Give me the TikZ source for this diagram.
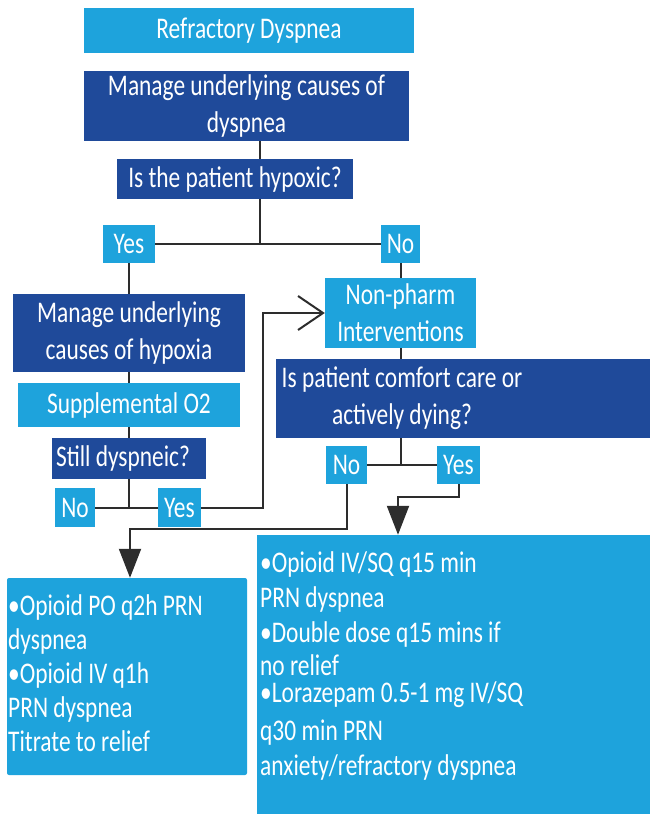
\documentclass[tikz,border=0pt]{standalone}
\usepackage{fontspec}
\setmainfont{Carlito}[FakeStretch=0.78]
\usetikzlibrary{arrows.meta,calc}
\definecolor{lightb}{RGB}{30,163,220}
\definecolor{darkb}{RGB}{31,74,154}
\definecolor{linec}{RGB}{45,45,45}
\begin{document}
\begin{tikzpicture}[x=1pt,y=-1pt,
  txt/.style={text=white,font=\fontsize{30}{37}\selectfont,inner sep=0pt,align=center},
  lbox/.style={txt,fill=lightb},
  dbox/.style={txt,fill=darkb},
  conn/.style={draw=linec,line width=2pt},
  openarr/.style={conn,-{Straight Barb[length=25pt,width=34pt,line width=2pt]}},
  fillarr/.style={conn,-{Triangle[length=29pt,width=22pt]}}]
\useasboundingbox (0,0) rectangle (650,814);
\clip (0,0) rectangle (650,814);
% boxes
\node[lbox,minimum width=330,minimum height=45] (rd) at (249,30.5) {Refractory Dyspnea};
\node[dbox,minimum width=325,minimum height=70] (m1) at (246.5,106) {Manage underlying causes of\\dyspnea};
\node[dbox,minimum width=236,minimum height=40] (hyp) at (235,179) {Is the patient hypoxic?};
\node[lbox,minimum width=52,minimum height=38] (yes1) at (129,244) {Yes};
\node[lbox,minimum width=39,minimum height=38] (no1) at (400.5,244) {No};
\node[dbox,minimum width=232,minimum height=78] (m2) at (129,333) {Manage underlying\\causes of hypoxia};
\node[lbox,minimum width=222,minimum height=44] (o2) at (129,405) {Supplemental O2};
\node[dbox,minimum width=154,minimum height=41] (still) at (129,458.5) {};
\node[txt] (stilltext) at (123,458.5) {Still dyspneic?};
\node[lbox,minimum width=40,minimum height=39] (no2) at (75,507.5) {No};
\node[lbox,minimum width=43,minimum height=39] (yes2) at (179.5,507.5) {Yes};
\node[lbox,minimum width=151,minimum height=70] (np) at (400.5,313) {Non-pharm\\Interventions};
\node[dbox,minimum width=374,minimum height=79] (cc) at (463,398.5) {};
\node[txt] (cctext) at (402,398.5) {Is patient comfort care or\\actively dying?};
\node[lbox,minimum width=41,minimum height=38] (no3) at (346.5,465) {No};
\node[lbox,minimum width=43,minimum height=38] (yes3) at (458.5,465) {Yes};
\node[fill=lightb,rounded corners=2pt,minimum width=240,minimum height=197,inner sep=0pt] (bl) at (127,676.5) {};
\node[fill=lightb,minimum width=393,minimum height=279,inner sep=0pt] (br) at (453.5,674.5) {};
\node[txt,align=left,anchor=base west,font=\fontsize{30}{34}\selectfont] (bltext) at (8,751)
  {•Opioid PO q2h PRN\\dyspnea\\•Opioid IV q1h\\PRN dyspnea\\Titrate to relief};
\node[txt,align=left,anchor=base west,font=\fontsize{30}{35}\selectfont] (brtext) at (260,775)
  {•Opioid IV/SQ q15 min\\PRN dyspnea\\•Double dose q15 mins if\\[-2pt]no relief\\[-8pt]•Lorazepam 0.5-1 mg IV/SQ\\[3pt]q30 min PRN\\anxiety/refractory dyspnea};
% junction coordinates
\coordinate (j1) at (260,244);
\coordinate (c1) at (263,313);
\coordinate (c2) at (398,497);
\coordinate (c3) at (130,529);
% connectors
\draw[conn] (m1.south -| j1) -- (hyp.north -| j1);
\draw[conn] (hyp.south -| j1) -- (j1);
\draw[conn] (yes1.east) -- (no1.west);
\draw[conn] (yes1.south) -- (m2.north);
\draw[conn] (m2.south) -- (o2.north);
\draw[conn] (o2.south) -- (still.north);
\draw[conn] (still.south) -- (still.south |- yes2.west);
\draw[conn] (no2.east) -- (yes2.west);
\draw[openarr] (yes2.east) -| (c1) -- (np.west);
\draw[conn] (no1.south) -- (np.north);
\draw[conn] (np.south) -- (np.south |- cc.north);
\draw[conn] (np.south |- cc.south) -- (np.south |- no3.east);
\draw[conn] (no3.east) -- (yes3.west);
\draw[fillarr] (yes3.south) |- (c2) -- (c2 |- br.north);
\draw[fillarr] (no3.south) |- (c3) -- (c3 |- bl.north);
\end{tikzpicture}
\end{document}
